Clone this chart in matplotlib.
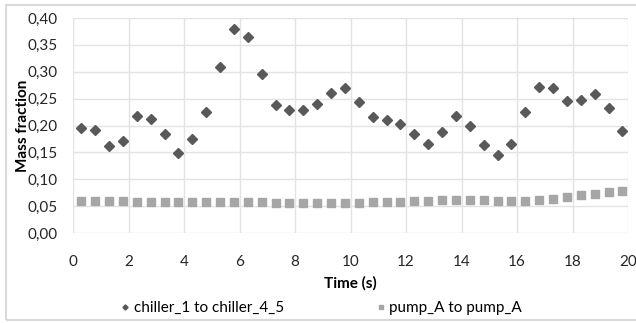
import matplotlib.pyplot as plt
from matplotlib.patches import Rectangle
from matplotlib.ticker import FuncFormatter

plt.rcParams['font.family'] = ['Lato', 'DejaVu Sans']

# Sample times (s)
time_s = [0.3, 0.8, 1.3, 1.8, 2.3, 2.8, 3.3, 3.8, 4.3, 4.8,
          5.3, 5.8, 6.3, 6.8, 7.3, 7.8, 8.3, 8.8, 9.3, 9.8,
          10.3, 10.8, 11.3, 11.8, 12.3, 12.8, 13.3, 13.8, 14.3, 14.8,
          15.3, 15.8, 16.3, 16.8, 17.3, 17.8, 18.3, 18.8, 19.3, 19.8]

# Mass fraction, chiller_1 -> chiller_4_5
chiller = [0.195, 0.192, 0.162, 0.172, 0.218, 0.213, 0.184, 0.149, 0.174, 0.225,
           0.309, 0.380, 0.364, 0.296, 0.238, 0.229, 0.229, 0.240, 0.261, 0.269,
           0.244, 0.216, 0.210, 0.202, 0.185, 0.166, 0.188, 0.217, 0.200, 0.163,
           0.146, 0.166, 0.225, 0.271, 0.269, 0.245, 0.248, 0.258, 0.233, 0.190]

# Mass fraction, pump_A -> pump_A
pump = [0.059, 0.059, 0.059, 0.059, 0.058, 0.058, 0.057, 0.057, 0.058, 0.058,
        0.058, 0.058, 0.058, 0.057, 0.056, 0.056, 0.055, 0.055, 0.055, 0.056,
        0.056, 0.057, 0.057, 0.058, 0.059, 0.060, 0.061, 0.062, 0.062, 0.061,
        0.060, 0.059, 0.059, 0.061, 0.064, 0.067, 0.070, 0.073, 0.076, 0.078]

x_ticks = [0, 2, 4, 6, 8, 10, 12, 14, 16, 18, 20]
y_ticks = [0.00, 0.05, 0.10, 0.15, 0.20, 0.25, 0.30, 0.35, 0.40]

fig = plt.figure(figsize=(6.36, 3.23), dpi=100)
ax = fig.add_axes([73 / 636, 1 - 233 / 323, 555 / 636, 215 / 323])

# light frame around the whole chart (runs off the right edge)
fig.patches.append(Rectangle((0.009, 0.008), 1.0, 0.978, transform=fig.transFigure,
                             fill=False, edgecolor='#d9d9d9', linewidth=1.5))

ax.plot(time_s, chiller, linestyle='none', marker='D', markersize=4.8,
        color='#595959', label='chiller_1 to chiller_4_5', zorder=3)
ax.plot(time_s, pump, linestyle='none', marker='s', markersize=6.3,
        color='#a6a6a6', label='pump_A to pump_A', zorder=3)

ax.set_xlim(0, 20)
ax.set_ylim(0, 0.40)
ax.set_xticks(x_ticks)
ax.set_yticks(y_ticks)
ax.yaxis.set_major_formatter(FuncFormatter(lambda v, p: f'{v:.2f}'.replace('.', ',')))
ax.grid(True, color='#e3e3e3', linewidth=1)
ax.set_axisbelow(True)
for s in ax.spines.values():
    s.set_visible(False)
ax.tick_params(length=0, labelsize=11, colors='#262626', pad=11)
ax.tick_params(axis='x', pad=16)

ax.set_xlabel('Time (s)', fontsize=11, fontweight='bold', labelpad=5)
ax.set_ylabel('Mass fraction', fontsize=11, fontweight='bold', labelpad=-2)

ax.legend(loc='center', bbox_to_anchor=(0.447, -0.35), ncol=2, frameon=False,
          fontsize=11, markerscale=0.55, handletextpad=0.2, columnspacing=6.0,
          handlelength=0.7)

fig.savefig('out.png', dpi=100)
